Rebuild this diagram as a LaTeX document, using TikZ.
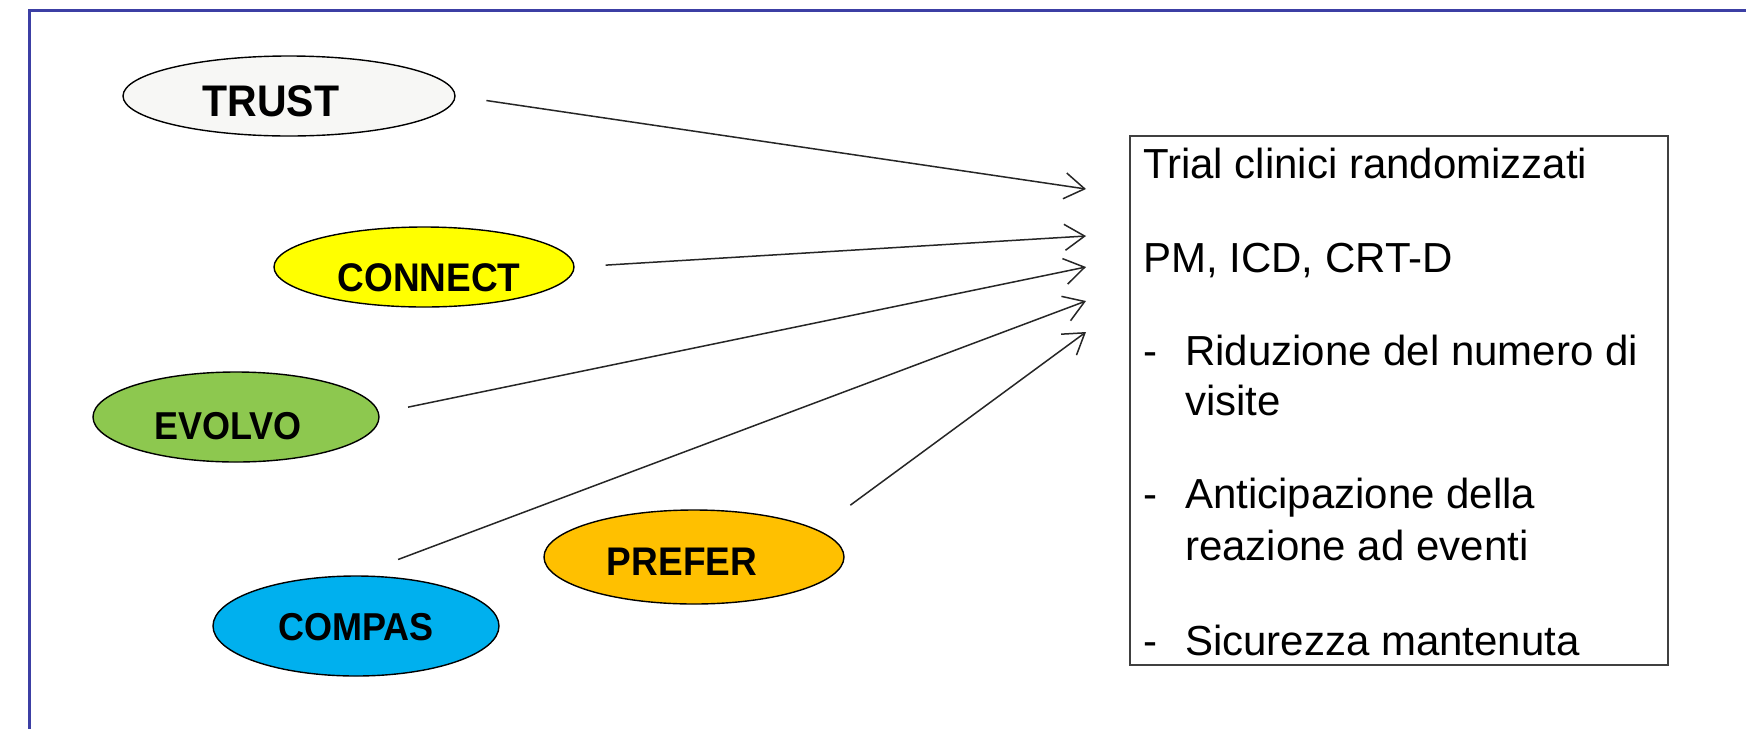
\documentclass[tikz,border=0pt]{standalone}
\usepackage{fontspec}
\setmainfont{Liberation Sans}
\usetikzlibrary{shapes.geometric,arrows.meta}

\definecolor{framecol}{HTML}{3C3FA4}
\definecolor{trustfill}{HTML}{F7F7F5}
\definecolor{connectfill}{HTML}{FFFF00}
\definecolor{evolvofill}{HTML}{8DC84F}
\definecolor{compasfill}{HTML}{00B0EE}
\definecolor{preferfill}{HTML}{FFC000}
\definecolor{boxline}{HTML}{404040}

\newcommand{\tall}[1]{\scalebox{1}[1.08]{#1}}

\begin{document}
\begin{tikzpicture}[x=1pt,y=-1pt,
  bubble/.style={ellipse, draw=black, line width=1.4pt, inner sep=0pt},
  tag/.style={inner sep=0pt, font=\fontsize{37}{37}\selectfont\bfseries},
  link/.style={line width=1.5pt, draw=black!85,
    -{Straight Barb[length=20pt,width=26pt,line width=1.5pt]}},
  bodytext/.style={anchor=base west, inner sep=0pt,
    font=\fontsize{42}{42}\selectfont},
]
\useasboundingbox (0,0) rectangle (1746,729);
\fill[white] (0,0) rectangle (1746,729);

% slide frame, top and left edges only
\draw[framecol, line width=3pt] (1746,10) -- (29,10) -- (29,729);

% study ellipses
\node[bubble, fill=trustfill, minimum width=332, minimum height=80] (trust) at (289,96) {};
\node[bubble, fill=connectfill, minimum width=300, minimum height=80] (connect) at (424,267) {};
\node[bubble, fill=evolvofill, minimum width=286, minimum height=90] (evolvo) at (236,417) {};
\node[bubble, fill=compasfill, minimum width=286, minimum height=100] (compas) at (356,626) {};
\node[bubble, fill=preferfill, minimum width=300, minimum height=94] (prefer) at (694,557) {};

% their labels, set a little off centre
\node[tag, font=\fontsize{41}{41}\selectfont\bfseries] (trustlabel) at ([shift={(-18,5)}]trust.center) {\tall{TRUST}};
\node[tag] (connectlabel) at ([shift={(5,11)}]connect.center) {\tall{CONNECT}};
\node[tag, font=\fontsize{36}{36}\selectfont\bfseries] (evolvolabel) at ([shift={(-8,9)}]evolvo.center) {\tall{EVOLVO}};
\node[tag, font=\fontsize{36}{36}\selectfont\bfseries] (compaslabel) at ([shift={(0,1)}]compas.center) {\tall{COMPAS}};
\node[tag] (preferlabel) at ([shift={(-12,5)}]prefer.center) {\tall{PREFER}};

% outcome box
\node[draw=boxline, line width=2pt, minimum width=538, minimum height=529,
  inner sep=0pt] (box) at (1399,400.5) {};
\node[bodytext] (l1) at (1143,178) {Trial clinici randomizzati};
\node[bodytext] (l2) at (1143,272) {PM, ICD, CRT-D};
\node[bodytext] (d1) at (1143,365) {-};
\node[bodytext] (l3) at (1185,365) {Riduzione del numero di};
\node[bodytext] (l4) at (1185,415) {visite};
\node[bodytext] (d2) at (1143,508) {-};
\node[bodytext] (l5) at (1185,508) {Anticipazione della};
\node[bodytext] (l6) at (1185,560) {reazione ad eventi};
\node[bodytext] (d3) at (1143,655) {-};
\node[bodytext] (l7) at (1185,655) {Sicurezza mantenuta};

% arrow heads in front of the box
\coordinate (t1) at (1086,189);
\coordinate (t2) at (1086,236);
\coordinate (t3) at (1086,267);
\coordinate (t4) at (1086,301);
\coordinate (t5) at (1086,332);

\draw[link, shorten <=31pt] (trust.east) -- (t1);
\draw[link, shorten <=31pt] (connect.east) -- (t2);
\draw[link, shorten <=29pt] ([yshift=4pt]evolvo.east) -- (t3);
\draw[link, shorten <=45pt] (compas.north) -- (t4);
\draw[link, shorten <=7pt] (prefer.east |- prefer.north) -- (t5);
\end{tikzpicture}
\end{document}
